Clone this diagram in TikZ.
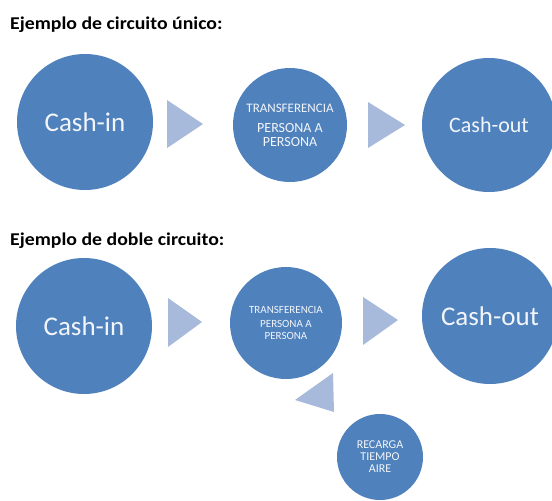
\documentclass[tikz,border=0pt]{standalone}
\usepackage{fontspec}
\setmainfont{Carlito}
\usepackage{graphicx}
\definecolor{circleblue}{HTML}{4F81BD}
\definecolor{chevron}{HTML}{A8BADB}
\definecolor{circletext}{HTML}{F2F5FA}
\tikzset{
  stage/.style={circle, fill=circleblue, text=circletext, inner sep=0pt,
    align=center, font=\fontsize{#1}{#1}\selectfont},
  chev/.style={fill=chevron},
  heading/.style={anchor=base west, inner sep=0pt, font=\bfseries\fontsize{18}{21}\selectfont}
}
\begin{document}
\begin{tikzpicture}[x=1pt, y=-1pt]
  \useasboundingbox[fill=white] (0,0) rectangle (552,501);

  % single circuit
  \node[heading] (t1) at (10,29) {\scalebox{1.1}[1]{Ejemplo de circuito único:}};
  \node[stage=27, minimum size=136pt] (in1) at (85,122) {Cash-in};
  \node[stage=14, minimum size=114pt] (tr1) at (290,125)
    {{\fontsize{13}{13}\selectfont TRANSFERENCIA}\\[6pt]PERSONA A\\PERSONA};
  \node[stage=22, minimum size=134pt] (out1) at (489,125) {Cash-out};
  \fill[chev] (167,100) -- (167,148) -- (203,124) -- cycle;
  \fill[chev] (368,102) -- (368,148) -- (405,125) -- cycle;

  % double circuit
  \node[heading] (t2) at (10,245) {\scalebox{1.1}[1]{Ejemplo de doble circuito:}};
  \node[stage=27, minimum size=136pt] (in2) at (84,326) {Cash-in};
  \node[stage=11, minimum size=112pt] (tr2) at (286,323)
    {TRANSFERENCIA\\[3pt]PERSONA A\\[1pt]PERSONA};
  \node[stage=27, minimum size=136pt] (out2) at (490,316) {Cash-out};
  \node[stage=12, minimum size=86pt] (rec) at (380,457) {RECARGA\\TIEMPO\\AIRE};
  \fill[chev] (168,298) -- (168,347) -- (202,322) -- cycle;
  \fill[chev] (363,297) -- (363,345) -- (398,320) -- cycle;
  \fill[chev] (333,373) -- (334,412) -- (295,400) -- cycle;
\end{tikzpicture}
\end{document}
